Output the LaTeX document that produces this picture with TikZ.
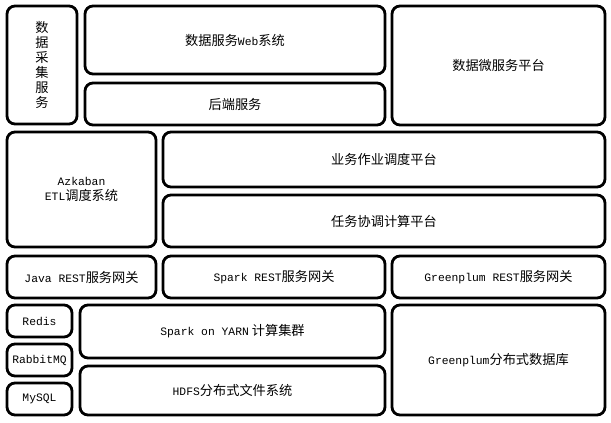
\documentclass[tikz,border=0pt]{standalone}
\usepackage{fontspec}
\setmainfont{Noto Sans CJK SC}
\newfontfamily\latf[Scale=0.86]{Liberation Mono}
\newcommand\lx[1]{{\latf #1}}
\tikzset{
  box/.style={draw=black, line width=2.1pt, rounded corners=6pt, inner sep=0pt,
    align=center, font=\fontsize{9.9}{11.25}\selectfont},
}
\newcommand\bx[6]{%
  \node[box, minimum width={(#4-#2)*0.75pt}, minimum height={(#5-#3)*0.75pt}]
    (#1) at ({(#2+#4)/2},{(#3+#5)/2}) {#6};}
\begin{document}
\begin{tikzpicture}[x=0.75pt,y=-0.75pt]
\useasboundingbox (0,0) rectangle (611,422);
\bx{collect}{7}{6}{77}{124}{\fontsize{9.9}{12.5}\selectfont 数\\据\\采\\集\\服\\务}
\bx{web}{85}{6}{385}{74}{数据服务\lx{Web}系统}
\bx{backend}{85}{83}{385}{125}{后端服务}
\bx{micro}{392}{6}{605}{125}{数据微服务平台}
\bx{azk}{7}{132}{156}{247}{\lx{Azkaban}\\\lx{ETL}调度系统}
\bx{biz}{163}{132}{605}{187}{业务作业调度平台}
\bx{task}{163}{195}{605}{247}{任务协调计算平台}
\bx{javagw}{7}{256}{156}{298}{\lx{Java REST}服务网关}
\bx{sparkgw}{163}{256}{385}{298}{\lx{Spark REST}服务网关}
\bx{gpgw}{392}{256}{605}{298}{\lx{Greenplum REST}服务网关}
\bx{redis}{7}{305}{72}{337}{\lx{Redis}}
\bx{rabbit}{7}{344}{72}{376}{\lx{RabbitMQ}}
\bx{mysql}{7}{383}{72}{415}{\lx{MySQL}}
\bx{yarn}{80}{305}{385}{358}{\lx{Spark on YARN} 计算集群}
\bx{hdfs}{80}{366}{385}{415}{\lx{HDFS}分布式文件系统}
\bx{gpdb}{392}{305}{605}{415}{\lx{Greenplum}分布式数据库}
\end{tikzpicture}
\end{document}
